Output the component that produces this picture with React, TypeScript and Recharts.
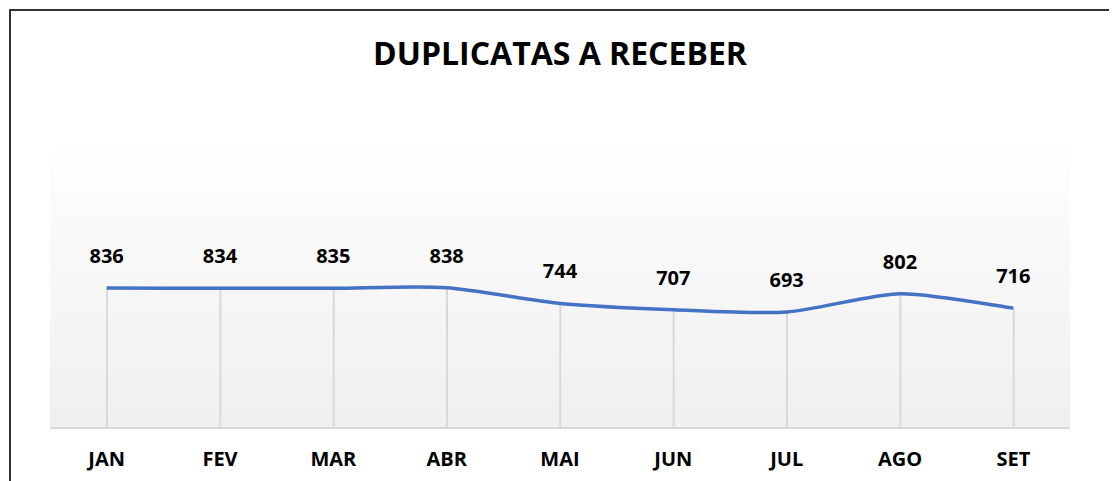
import { ComposedChart, Line, Bar, XAxis, YAxis, CartesianGrid, LabelList } from 'recharts';

// Monthly values
const MONTHS = ['JAN', 'FEV', 'MAR', 'ABR', 'MAI', 'JUN', 'JUL', 'AGO', 'SET'];
const VALUES = [836, 834, 835, 838, 744, 707, 693, 802, 716];

const FONT = "'Open Sans', 'Noto Sans', sans-serif";
const LINE_COLOR = '#4472c4';
const DROP_COLOR = '#d9d9d9';

const data = MONTHS.map((month, i) => ({ month, value: VALUES[i] }));

// Excel-style smoothed line: cardinal spline, buffered then drawn on lineEnd
function smoothCurve(context: any) {
  let pts: [number, number][] = [];
  const k = 1 / 8;
  return {
    areaStart() {},
    areaEnd() {},
    lineStart() {
      pts = [];
    },
    lineEnd() {
      if (!pts.length) return;
      context.moveTo(pts[0][0], pts[0][1]);
      for (let i = 0; i < pts.length - 1; i++) {
        const p0 = pts[i - 1] || pts[i];
        const p1 = pts[i];
        const p2 = pts[i + 1];
        const p3 = pts[i + 2] || p2;
        context.bezierCurveTo(
          p1[0] + (p2[0] - p0[0]) * k,
          p1[1] + (p2[1] - p0[1]) * k,
          p2[0] - (p3[0] - p1[0]) * k,
          p2[1] - (p3[1] - p1[1]) * k,
          p2[0],
          p2[1]
        );
      }
    },
    point(x: number, y: number) {
      pts.push([+x, +y]);
    },
  };
}

export default function App() {
  return (
    <div
      style={{
        position: 'relative',
        width: 1098,
        height: 480,
        marginLeft: 1,
        marginTop: 1,
        border: '2px solid #333',
        borderBottom: 'none',
        background: '#fff',
        fontFamily: FONT,
      }}
    >
      <div
        style={{
          position: 'absolute',
          top: 22,
          left: 0,
          width: '100%',
          textAlign: 'center',
          fontSize: 32,
          fontWeight: 700,
          color: '#000',
          lineHeight: '40px',
        }}
      >
        DUPLICATAS A RECEBER
      </div>
      <ComposedChart
        width={1098}
        height={470}
        data={data}
        margin={{ top: 124, right: 39, bottom: 0, left: 39 }}
      >
        <defs>
          <linearGradient id="plotBg" x1="0" y1="0" x2="0" y2="1">
            <stop offset="0%" stopColor="#ffffff" />
            <stop offset="100%" stopColor="#efefef" />
          </linearGradient>
        </defs>
        <CartesianGrid horizontal={false} vertical={false} fill="url(#plotBg)" fillOpacity={1} />
        <XAxis
          dataKey="month"
          axisLine={{ stroke: DROP_COLOR, strokeWidth: 2 }}
          tickLine={false}
          height={53}
          tick={{ fill: '#000', fontSize: 20, fontWeight: 700, fontFamily: FONT }}
          dy={16}
        />
        <YAxis hide domain={[0, 1750]} />
        <Bar dataKey="value" barSize={2} fill={DROP_COLOR} isAnimationActive={false} />
        <Line
          type={smoothCurve as any}
          dataKey="value"
          stroke={LINE_COLOR}
          strokeWidth={3.5}
          dot={false}
          activeDot={false}
          isAnimationActive={false}
        >
          <LabelList
            dataKey="value"
            position="top"
            offset={25}
            style={{ fill: '#000', fontSize: 20, fontWeight: 700, fontFamily: FONT }}
          />
        </Line>
      </ComposedChart>
    </div>
  );
}
